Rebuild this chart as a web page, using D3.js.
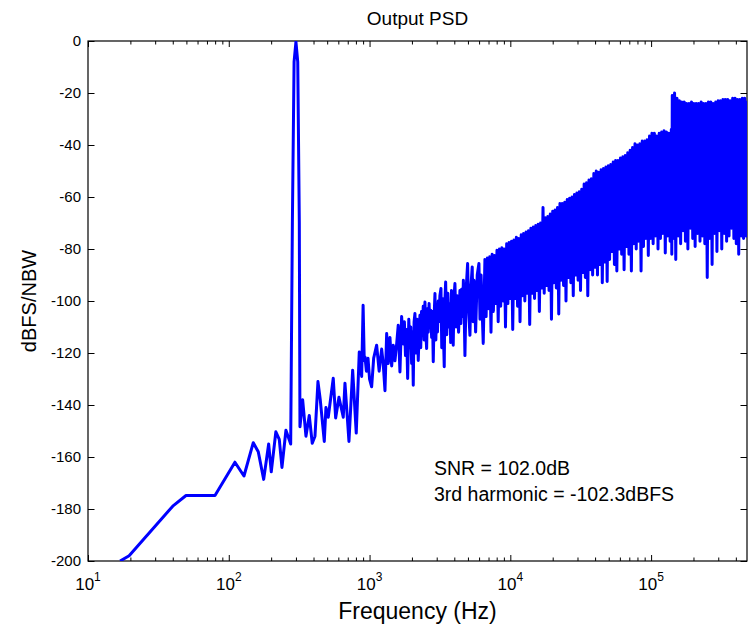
<!DOCTYPE html>
<html>
<head>
<meta charset="utf-8">
<script src="https://cdn.jsdelivr.net/npm/d3@7"></script>
<style>
  body { margin: 0; background: #fff; }
  text { font-family: "Liberation Sans", Arial, Helvetica, sans-serif; fill: #000; }
</style>
</head>
<body>
<div id="chart"></div>
<script>
// PSD trace, [frequency Hz, dBFS/NBW]
var lowBand = [
  [16.9,-200],[19.6,-198],[40,-178.9],[49.7,-174.8],[79.8,-174.8],[110.6,-162],[128.2,-167.3],
  [149.3,-154.5],[162,-158],[177,-168.6],[192,-155],[200.4,-165.7],[216,-150.3],[228.4,-153.2],
  [238.7,-164],[254.7,-149.7],[275.3,-155]
];
// the 300 Hz test tone
var tonePeak = [[283,-70],[291,-8],[300,-0.3],[309,-8],[317,-70]];
var midBand = [
  [320.4,-148.4],[334.8,-138],[353.4,-152],[373,-144],[391.7,-154.7],[409.6,-152],[430,-131],
  [446.6,-138],[476.9,-154],[490,-141],[508.8,-144.7],[552.3,-129.7],[574.4,-145],[606.3,-137],
  [650.5,-144.7],[668.9,-131.6],[714,-154],[758.6,-126.6],[804.4,-150.8],[845.2,-119.6],[879,-129],
  [900,-101.6],[917,-123],[928,-121.5],[950,-127],[975,-122],[1000,-130],[1035,-133],[1070,-122],
  [1123,-117],[1170,-127],[1219,-118.5],[1250,-124],[1287,-134.5],[1323,-112.5],[1358,-124],
  [1396,-114],[1436,-125],[1474,-117],[1515,-123],[1558,-116.5],[1599,-109.3],[1644,-127.3],
  [1690,-106],[1735,-116.5],[1768,-108],[1800,-121],[1832,-111],[1865,-129.8],[1900,-107],
  [1936,-118],[1962,-110],[1990,-124],[2017,-112],[2044,-132.4],[2072,-108],[2101,-104.8],
  [2140,-120],[2180,-107],[2218,-122.9],[2250,-112],[2280,-105.5],[2310,-118],[2340,-104],
  [2372,-113],[2406,-102],[2440,-115],[2475,-100.4],[2510,-112],[2544,-118.3],[2576,-103],
  [2610,-112],[2648,-101],[2685,-110],[2722,-103.6],[2760,-114],[2797,-104],[2835,-123.4],
  [2875,-106],[2915,-97.1],[2958,-115],[3000,-102],[3037,-111.9],[3075,-100],[3110,-108],
  [3160,-98],[3216,-95.2],[3258,-118],[3300,-99],[3340,-110],[3393,-125.3],[3430,-100],
  [3472,-92.7],[3535,-113],[3600,-97],[3660,-110],[3724,-101],[3770,-116],[3820,-96],[3875,-109],
  [3930,-117],[3985,-98],[4041,-93.3],[4120,-110],[4200,-98],[4290,-112],[4385,-96],[4450,-108.7],
  [4509,-95.5],[4575,-106],[4640,-92],[4700,-104],[4760,-121],[4860,-95],[4973,-85.6],[5060,-104],
  [5166,-113.2],[5260,-94],[5362,-86.9],[5440,-108],[5520,-92],[5600,-102],[5669,-111.9],
  [5820,-90],[5984,-85.6],[6090,-107],[6200,-90],[6310,-104],[6420,-116.3]
];
var highBand = [
  [6600,-84],[6730,-106],[6870,-83.5],[7000,-103],[7140,-83],[7290,-112],[7430,-82],[7580,-104],
  [7730,-82.5],[7890,-101],[8040,-80.5],[8200,-108],[8370,-80],[8540,-102],[8710,-79.5],[8880,-100],
  [9060,-80],[9240,-110],[9420,-78],[9610,-101],[9800,-77.5],[10000,-99],
  [10200,-77],[10400,-111],[10610,-76.5],[10820,-99],[11040,-75.5],[11260,-102],[11490,-76],
  [11720,-108],[11950,-74.5],[12190,-98],[12430,-74],[12680,-100],[12940,-73.5],[13190,-97],
  [13460,-73],[13730,-109],[14000,-72],[14280,-97],[14570,-71.5],[14860,-99],[15160,-71],
  [15460,-96],[15770,-70.5],[16080,-104],[16400,-70],[16730,-95],[17070,-64],[17410,-97],
  [17760,-68],[18110,-94],[18470,-67.5],[18840,-96],[19220,-66.5],[19600,-107],[20000,-65.5],
  [20400,-93],[20800,-65],[21220,-95],[21640,-64],[22080,-105],[22520,-62.5],[22970,-92],
  [23430,-62.5],[23890,-94],[24370,-62],[24860,-100],[25360,-61],[25860,-91],[26380,-60.5],
  [26910,-93],[27440,-60],[27990,-98],[28550,-59],[29120,-90],[29710,-58.5],[30300,-92],
  [30910,-58],[31520,-96],[32150,-57],[32800,-89],[33450,-55],[34120,-91],[34800,-54.5],
  [35500,-98],[36210,-53.5],[36930,-88],[37670,-53],[38430,-90],[39200,-51],[39980,-87],
  [40780,-50],[41600,-90],[42430,-50.5],[43280,-86],[44140,-49.5],[45020,-93],[45920,-49],
  [46840,-85],[47780,-48.5],[48740,-92.5],[49710,-48],[50700,-84],[51720,-47.5],[52750,-81],
  [53810,-46.5],[54880,-86],[55980,-46],[57100,-88.5],[58240,-46],[59410,-80],[60600,-45],
  [61810,-82],[63040,-44.5],[64300,-88],[65590,-44],[66900,-79],[68240,-43],[69600,-82],
  [71000,-42],[72420,-88.5],[73860,-41],[75340,-78],[76850,-39.5],[78390,-80],[79950,-40],
  [81550,-77],[83180,-39.5],[84850,-88.5],[86540,-38.5],[88270,-79],[90040,-38.5],[91840,-76],
  [93680,-38],[95550,-82.5],[97460,-36.5],[99410,-76],[101400,-35.5],[103400,-78],[105500,-35.5],
  [107600,-75],[109800,-36.5],[112000,-80],[114200,-35.5],[116500,-76],[118800,-35],[121200,-74],
  [123600,-34.5],[126100,-81.5],[128600,-35],[131200,-75],[133800,-35.5],[136500,-77],[139200,-34],
  [140300,-82],[141400,-21],[144000,-76],[146800,-20],[149700,-84],[152700,-22],[155800,-75],
  [158900,-23],[162100,-78],[165300,-23.5],[168600,-73],[172000,-23.5],[175400,-77],[178900,-24],
  [182500,-80],[186200,-24],[189900,-72],[193700,-23.5],[197600,-76],[201500,-24],[205500,-79],
  [209600,-24],[213800,-74],[218100,-24],[222500,-77],[226900,-23.5],[231400,-75],[236000,-24],
  [240800,-78],[245600,-24],[250500,-91],[255500,-23.5],[260600,-76],[265800,-23.5],[271200,-86],
  [276600,-24],[282100,-74],[287800,-23.5],[293500,-81],[299400,-23],[305400,-73],[311500,-23],
  [317700,-80],[324100,-22.5],[330600,-74],[337200,-22.5],[343900,-77],[350800,-22.5],[357800,-75],
  [365000,-23],[372300,-72],[379700,-22],[387300,-76],[395000,-22],[402900,-78],[411000,-22.5],
  [419200,-82],[427600,-22.5],[436200,-75],[444900,-22],[453800,-76],[462900,-22],[472100,-75],
  [479000,-23]
];

var yTicks = [0, -20, -40, -60, -80, -100, -120, -140, -160, -180, -200];
var xDecades = [10, 100, 1000, 10000, 100000];
var xDecadeLabels = ["1", "2", "3", "4", "5"];
var notes = ["SNR = 102.0dB", "3rd harmonic = -102.3dBFS"];

var width = 753, height = 634;
var plotLeft = 88, plotRight = 747, plotTop = 41, plotBottom = 561;

var svg = d3.select("#chart").append("svg")
  .attr("width", width)
  .attr("height", height);

var x = d3.scaleLog().domain([10, 4.8e5]).range([plotLeft, plotRight]);
var y = d3.scaleLinear().domain([-200, 0]).range([plotBottom, plotTop]);

// minor ticks 2..9 in every decade
var minorTicks = [];
xDecades.forEach(function(d) {
  for (var m = 2; m <= 9; m++) {
    if (d * m <= 4.8e5) minorTicks.push(d * m);
  }
});

function plainAxis(g) {
  g.select(".domain").remove();
  g.selectAll(".tick line").attr("stroke", "#000");
  g.selectAll(".tick text").remove();
}

// x ticks, bottom and top, pointing inward
svg.append("g").attr("transform", "translate(0," + plotBottom + ")")
  .call(d3.axisBottom(x).tickValues(xDecades).tickSizeInner(-6).tickSizeOuter(0)).call(plainAxis);
svg.append("g").attr("transform", "translate(0," + plotBottom + ")")
  .call(d3.axisBottom(x).tickValues(minorTicks).tickSizeInner(-3.5).tickSizeOuter(0)).call(plainAxis);
svg.append("g").attr("transform", "translate(0," + plotTop + ")")
  .call(d3.axisTop(x).tickValues(xDecades).tickSizeInner(-6).tickSizeOuter(0)).call(plainAxis);
svg.append("g").attr("transform", "translate(0," + plotTop + ")")
  .call(d3.axisTop(x).tickValues(minorTicks).tickSizeInner(-3.5).tickSizeOuter(0)).call(plainAxis);

// y ticks, left and right
svg.append("g").attr("transform", "translate(" + plotLeft + ",0)")
  .call(d3.axisLeft(y).tickValues(yTicks).tickSizeInner(-6.5).tickSizeOuter(0)).call(plainAxis);
svg.append("g").attr("transform", "translate(" + plotRight + ",0)")
  .call(d3.axisRight(y).tickValues(yTicks).tickSizeInner(-6.5).tickSizeOuter(0)).call(plainAxis);

// y tick labels
svg.append("g").selectAll("text")
  .data(yTicks)
  .join("text")
    .attr("x", plotLeft - 7)
    .attr("y", d => y(d))
    .attr("dy", "0.36em")
    .attr("text-anchor", "end")
    .attr("font-size", "15px")
    .text(d => d);

// x tick labels like 10^3
var xl = svg.append("g").selectAll("text")
  .data(xDecades)
  .join("text")
    .attr("x", d => x(d))
    .attr("y", 590)
    .attr("text-anchor", "middle")
    .attr("font-size", "17px");
xl.append("tspan").text("10");
xl.append("tspan")
  .attr("dy", -9)
  .attr("font-size", "12px")
  .text((d, i) => xDecadeLabels[i]);

// box
svg.append("rect")
  .attr("x", plotLeft).attr("y", plotTop)
  .attr("width", plotRight - plotLeft).attr("height", plotBottom - plotTop)
  .attr("fill", "none")
  .attr("stroke", "#000")
  .attr("stroke-width", 1.2);

// clip the trace to the axes
svg.append("clipPath").attr("id", "plotClip")
  .append("rect")
  .attr("x", plotLeft).attr("y", plotTop)
  .attr("width", plotRight - plotLeft).attr("height", plotBottom - plotTop);

var psd = lowBand.concat(tonePeak, midBand, highBand);
var line = d3.line()
  .x(d => x(d[0]))
  .y(d => y(d[1]));

svg.append("path")
  .datum(psd)
  .attr("clip-path", "url(#plotClip)")
  .attr("fill", "none")
  .attr("stroke", "#0000ff")
  .attr("stroke-width", 3)
  .attr("stroke-linejoin", "round")
  .attr("d", line);

// annotations
svg.append("g").selectAll("text")
  .data(notes)
  .join("text")
    .attr("x", 434)
    .attr("y", (d, i) => 475 + i * 26)
    .attr("font-size", "19.5px")
    .text(d => d);

// title and axis labels
svg.append("text")
  .attr("x", (plotLeft + plotRight) / 2)
  .attr("y", 25)
  .attr("text-anchor", "middle")
  .attr("font-size", "19px")
  .text("Output PSD");

svg.append("text")
  .attr("x", (plotLeft + plotRight) / 2)
  .attr("y", 619)
  .attr("text-anchor", "middle")
  .attr("font-size", "23px")
  .text("Frequency (Hz)");

svg.append("text")
  .attr("transform", "translate(36," + ((plotTop + plotBottom) / 2) + ") rotate(-90)")
  .attr("text-anchor", "middle")
  .attr("font-size", "20px")
  .text("dBFS/NBW");
</script>
</body>
</html>
